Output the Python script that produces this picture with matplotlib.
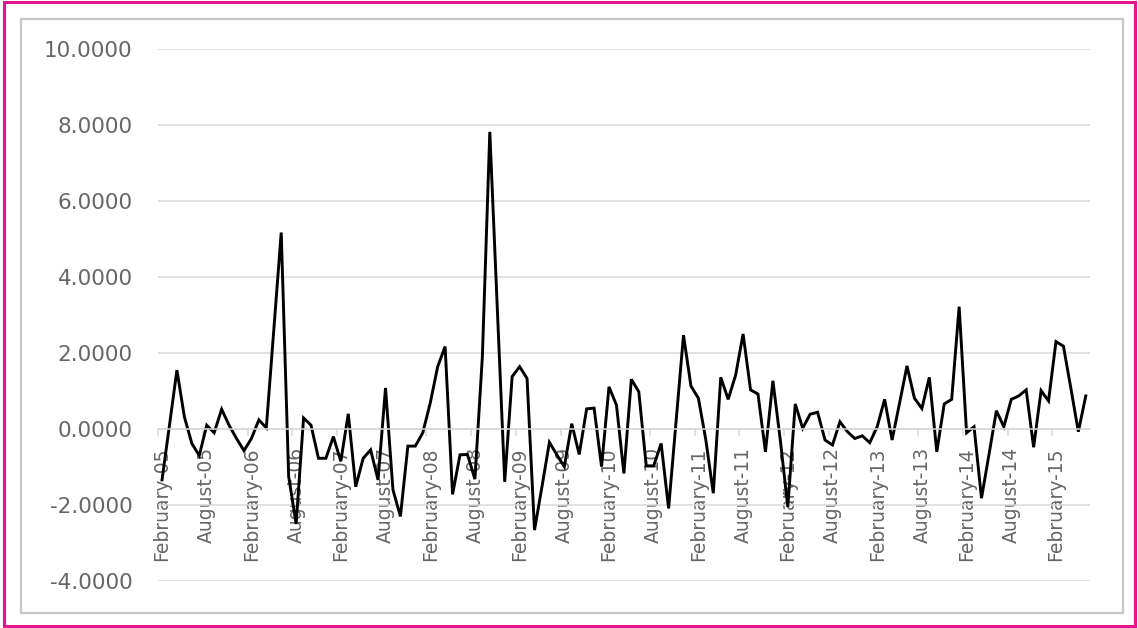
import numpy as np
import matplotlib
matplotlib.use("Agg")
import matplotlib.pyplot as plt
from matplotlib.patches import Rectangle
from matplotlib.ticker import FormatStrFormatter, FixedLocator

# monthly series, February 2005 .. June 2015
values = [
    -1.34, 0.10, 1.55, 0.32, -0.38, -0.70, 0.10, -0.10, 0.52, 0.10,
    -0.25, -0.57, -0.25, 0.24, 0.03, 2.60, 5.17, -1.25, -2.50, 0.29,
    0.10, -0.77, -0.77, -0.20, -0.85, 0.40, -1.52, -0.77, -0.55, -1.34,
    1.08, -1.60, -2.30, -0.45, -0.45, -0.10, 0.68, 1.64, 2.17, -1.72,
    -0.68, -0.67, -1.32, 1.90, 7.82, 3.20, -1.39, 1.38, 1.64, 1.33,
    -2.66, -1.52, -0.35, -0.68, -0.99, 0.14, -0.67, 0.53, 0.55, -0.99,
    1.11, 0.63, -1.17, 1.31, 0.98, -0.97, -0.97, -0.38, -2.09, 0.19,
    2.47, 1.13, 0.81, -0.29, -1.69, 1.36, 0.78, 1.42, 2.50, 1.03,
    0.92, -0.60, 1.27, -0.30, -2.05, 0.66, 0.02, 0.39, 0.44, -0.29,
    -0.42, 0.19, -0.07, -0.25, -0.18, -0.36, 0.06, 0.78, -0.29, 0.68,
    1.66, 0.81, 0.54, 1.36, -0.60, 0.66, 0.78, 3.22, -0.10, 0.06,
    -1.82, -0.68, 0.48, 0.06, 0.78, 0.87, 1.03, -0.48, 1.01, 0.74,
    2.30, 2.18, 1.07, -0.07, 0.87,
]

tick_labels = [
    "February-05", "August-05", "February-06", "August-06", "February-07",
    "August-07", "February-08", "August-08", "February-09", "August-09",
    "February-10", "August-10", "February-11", "August-11", "February-12",
    "August-12", "February-13", "August-13", "February-14", "August-14",
    "February-15",
]

y_ticks = [-4, -2, 0, 2, 4, 6, 8, 10]

W, H = 1138, 628
fig = plt.figure(figsize=(W / 100, H / 100), dpi=100)
fig.patch.set_facecolor("white")

# outer magenta frame and inner grey chart frame (pixel coords -> figure coords)
def frame(x0, y0, x1, y1, color, lw):
    fig.patches.append(Rectangle((x0 / W, 1 - y1 / H), (x1 - x0) / W, (y1 - y0) / H,
                                 transform=fig.transFigure, fill=False,
                                 edgecolor=color, linewidth=lw))

frame(4, 2, 1135, 626, "#E5168C", 2.2)
frame(21, 19, 1123, 613, "#C8C8C8", 1.6)

left, right, top, bottom = 158.3, 1089.5, 49, 581
ax = fig.add_axes([left / W, 1 - bottom / H, (right - left) / W, (bottom - top) / H])

x = np.arange(len(values))
ax.plot(x, values, color="black", linewidth=2.1, solid_joinstyle="miter")

ax.set_xlim(-0.5, len(values) - 0.5)
ax.set_ylim(-4, 10)
ax.set_yticks(y_ticks)
ax.yaxis.set_major_formatter(FormatStrFormatter("%.4f"))
ax.grid(axis="y", color="#D9D9D9", linewidth=1.1)
ax.set_axisbelow(True)

for s in ["top", "right", "left"]:
    ax.spines[s].set_visible(False)
ax.spines["bottom"].set_position(("data", 0))
ax.spines["bottom"].set_color("#D9D9D9")
ax.spines["bottom"].set_linewidth(1.1)

ax.set_xticks(np.arange(0, len(values), 6)[:len(tick_labels)])
ax.set_xticklabels(tick_labels, rotation=90, fontsize=13.5, color="#666666",
                   va="top", ha="center")
ax.xaxis.set_minor_locator(FixedLocator(np.arange(-0.5, len(values), 6)))
ax.tick_params(axis="x", which="major", length=0, pad=13)
ax.tick_params(axis="x", which="minor", length=5, color="#D9D9D9", width=1.1)
ax.tick_params(axis="y", length=0, pad=18.5, labelsize=15.5, labelcolor="#666666")

fig.savefig("out.png", dpi=100)
